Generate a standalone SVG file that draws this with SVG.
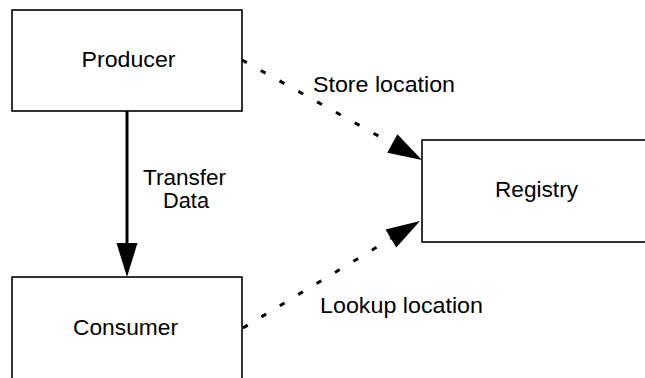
<svg xmlns="http://www.w3.org/2000/svg" width="645" height="378" viewBox="0 0 645 378">
  <style>
    .box { fill: #ffffff; stroke: #000000; stroke-width: 1.6; }
    .label { font-family: "Liberation Sans", Arial, sans-serif; font-size: 22px; fill: #000000; }
    .solid { fill: none; stroke: #000000; stroke-width: 3; }
    .dotted { fill: none; stroke: #000000; stroke-width: 3; stroke-dasharray: 5.5 16; }
    .head { fill: #000000; stroke: none; }
  </style>
  <rect width="645" height="378" fill="#ffffff"/>

  <g id="producer">
    <rect class="box" x="12" y="10" width="230" height="101"/>
    <text class="label" x="81.5" y="67" textLength="94" lengthAdjust="spacingAndGlyphs">Producer</text>
  </g>

  <g id="consumer">
    <rect class="box" x="12" y="277" width="230" height="120"/>
    <text class="label" x="73" y="335" textLength="105" lengthAdjust="spacingAndGlyphs">Consumer</text>
  </g>

  <g id="registry">
    <rect class="box" x="422" y="140" width="240" height="102"/>
    <text class="label" x="495" y="197" textLength="83" lengthAdjust="spacingAndGlyphs">Registry</text>
  </g>

  <g id="connectors">
    <!-- Producer to Consumer: solid -->
    <line class="solid" x1="127" y1="111" x2="127" y2="245"/>
    <polygon class="head" points="127,277 116.5,243 137.5,243"/>
    <text class="label" x="143" y="185" textLength="83" lengthAdjust="spacingAndGlyphs">Transfer</text>
    <text class="label" x="163" y="208" textLength="46" lengthAdjust="spacingAndGlyphs">Data</text>

    <!-- Producer to Registry: dotted -->
    <line class="dotted" x1="242" y1="60" x2="392" y2="143.5"/>
    <polygon class="head" points="422,160 387.2,152.7 397.4,134.3"/>
    <text class="label" x="313" y="92" textLength="142" lengthAdjust="spacingAndGlyphs">Store location</text>

    <!-- Consumer to Registry: dotted -->
    <line class="dotted" x1="243" y1="328" x2="391" y2="238.6"/>
    <polygon class="head" points="420,221 396.3,247.6 385.5,229.6"/>
    <text class="label" x="320" y="313" textLength="163" lengthAdjust="spacingAndGlyphs">Lookup location</text>
  </g>
</svg>
